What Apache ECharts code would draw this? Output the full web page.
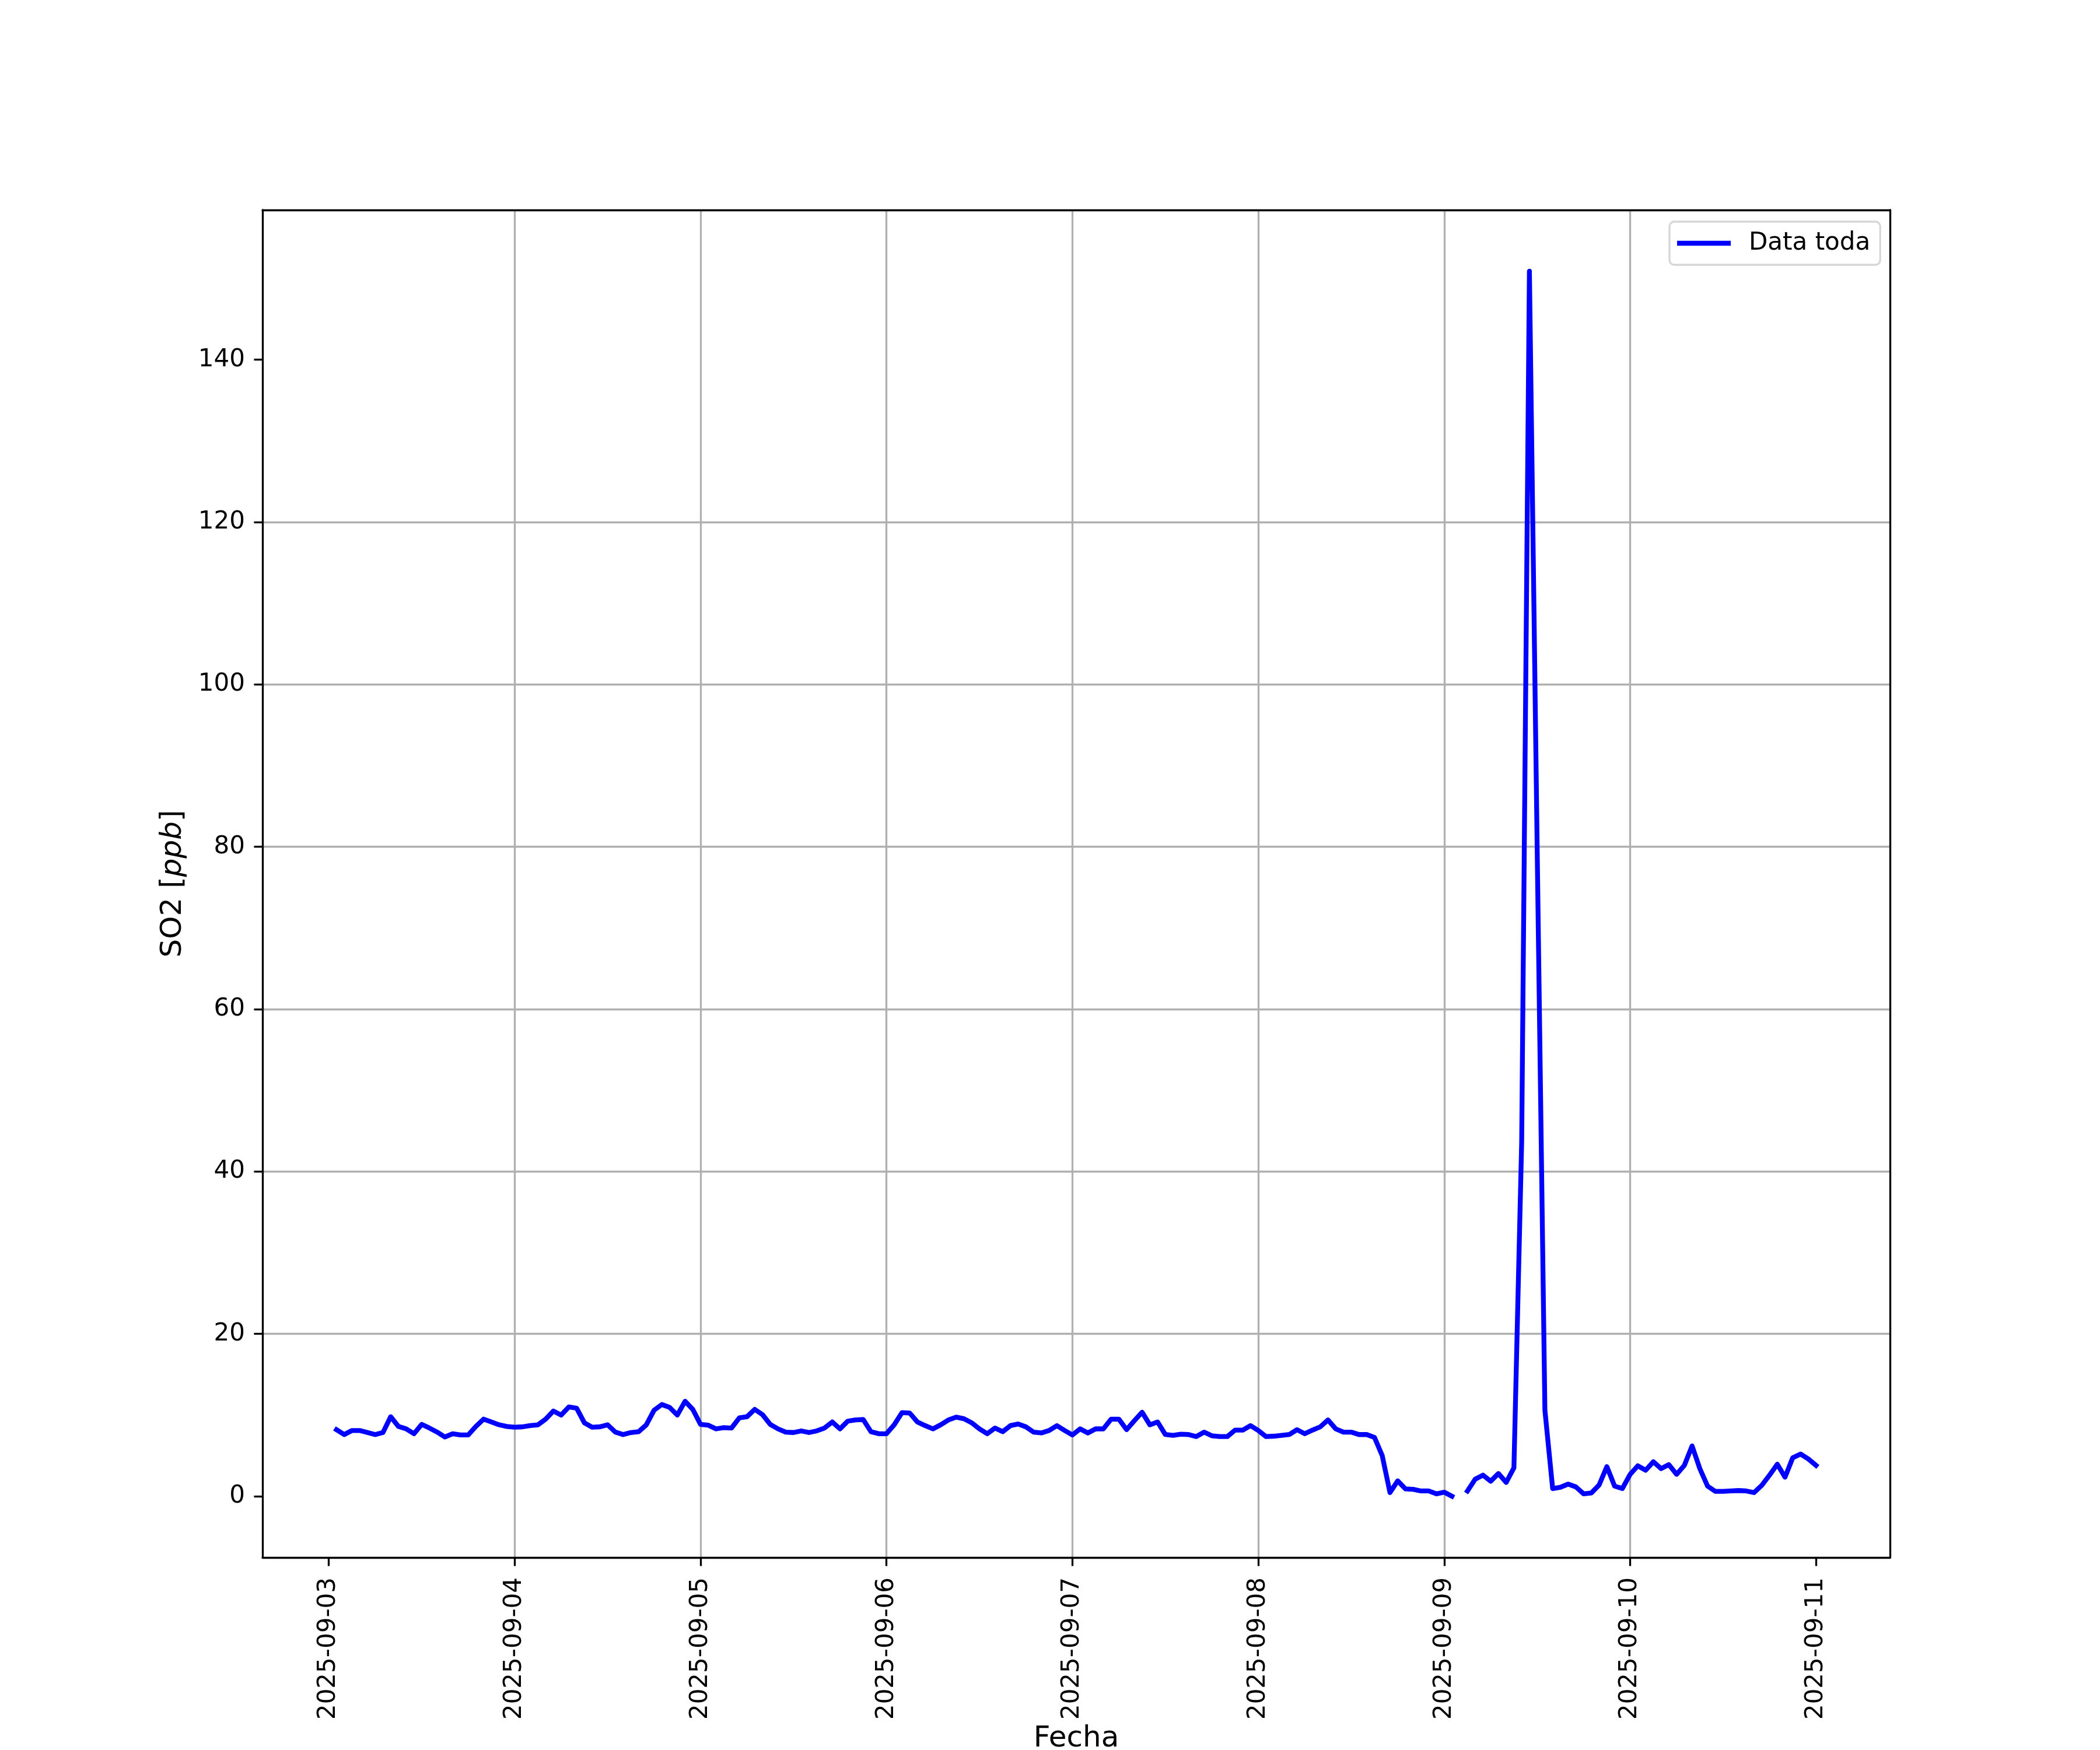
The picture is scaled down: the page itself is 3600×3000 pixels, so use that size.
<!DOCTYPE html>
<html>
<head>
<meta charset="utf-8">
<script src="https://cdn.jsdelivr.net/npm/echarts@6/dist/echarts.min.js"></script>
<style>body{margin:0;background:#fff;}</style>
</head>
<body>
<div id="main" style="width:3600px;height:3000px;"></div>
<script>
// 数据：SO2 每小时数值，从 2025-09-03 01:00 开始
var startTime = Date.UTC(2025, 8, 3, 1);
var hourMs = 3600 * 1000;
var dayMs = 24 * hourMs;

var so2Sep03 = [8.2, 7.6, 8.1, 8.1, 7.85, 7.6, 7.85, 9.8, 8.6, 8.3, 7.7, 8.85, 8.4, 7.9, 7.3, 7.7, 7.55, 7.55, 8.6, 9.5, 9.15, 8.8, 8.6];
var so2Sep04 = [8.5, 8.55, 8.7, 8.8, 9.5, 10.5, 10.0, 11.0, 10.85, 9.05, 8.5, 8.55, 8.8, 7.9, 7.6, 7.85, 7.95, 8.8, 10.6, 11.3, 10.95, 10.0, 11.7, 10.7];
var so2Sep05 = [8.85, 8.75, 8.3, 8.45, 8.4, 9.65, 9.8, 10.7, 10.05, 8.85, 8.3, 7.9, 7.85, 8.05, 7.85, 8.05, 8.4, 9.15, 8.3, 9.25, 9.4, 9.45, 7.95, 7.7];
var so2Sep06 = [7.7, 8.8, 10.3, 10.25, 9.15, 8.7, 8.3, 8.8, 9.4, 9.75, 9.55, 9.05, 8.3, 7.7, 8.4, 7.95, 8.7, 8.9, 8.55, 7.9, 7.8, 8.1, 8.7, 8.1];
var so2Sep07 = [7.55, 8.3, 7.8, 8.3, 8.3, 9.5, 9.5, 8.2, 9.3, 10.35, 8.8, 9.15, 7.6, 7.5, 7.65, 7.6, 7.35, 7.9, 7.45, 7.35, 7.35, 8.15, 8.15, 8.7];
var so2Sep08 = [8.1, 7.35, 7.4, 7.5, 7.6, 8.2, 7.7, 8.15, 8.55, 9.4, 8.3, 7.9, 7.9, 7.6, 7.6, 7.25, 5.0, 0.45, 1.9, 0.9, 0.85, 0.65, 0.65, 0.3];
var so2Sep09 = [0.5, 0.0, null, 0.65, 2.1, 2.6, 1.85, 2.8, 1.7, 3.5, 43.6, 150.9, 80, 10.6, 0.95, 1.1, 1.5, 1.15, 0.3, 0.4, 1.4, 3.65, 1.25, 0.95];
var so2Sep10 = [2.7, 3.75, 3.2, 4.25, 3.4, 3.9, 2.7, 3.8, 6.2, 3.4, 1.25, 0.6, 0.6, 0.65, 0.7, 0.65, 0.45, 1.35, 2.6, 3.95, 2.35, 4.75, 5.2, 4.6];
var so2Sep11 = [3.8];

var so2 = [].concat(so2Sep03, so2Sep04, so2Sep05, so2Sep06, so2Sep07, so2Sep08, so2Sep09, so2Sep10, so2Sep11);

var dayLabels = ['2025-09-03', '2025-09-04', '2025-09-05', '2025-09-06', '2025-09-07', '2025-09-08', '2025-09-09', '2025-09-10', '2025-09-11'];
var yTicks = [0, 20, 40, 60, 80, 100, 120, 140];

var points = so2.map(function (v, i) {
  return [startTime + i * hourMs, v === null ? '-' : v];
});

// 和 matplotlib 一样留 5% 边距
var tFirst = startTime, tLast = startTime + (so2.length - 1) * hourMs;
var xPad = (tLast - tFirst) * 0.05;
var vals = so2.filter(function (v) { return v !== null; });
var vMin = Math.min.apply(null, vals), vMax = Math.max.apply(null, vals);
var yPad = (vMax - vMin) * 0.05;

var dayTicks = dayLabels.map(function (d) { return Date.parse(d + 'T00:00:00Z'); });

var font = 'DejaVu Sans';
var frame = { color: '#000', width: 3.3 };

var chartDom = document.getElementById('main');
var myChart = echarts.init(chartDom);
var option;

option = {
  animation: false,
  backgroundColor: '#fff',
  grid: { left: 450, top: 360, width: 2790, height: 2310, show: false, containLabel: false, outerBoundsMode: 'none' },
  legend: {
    left: 2862,
    top: 380,
    icon: 'rect',
    itemWidth: 92,
    itemHeight: 8.3,
    padding: [15, 17, 15, 13],
    backgroundColor: '#fff',
    borderColor: '#d6d6d6',
    borderWidth: 3.3,
    borderRadius: 8,
    textStyle: { fontFamily: font, fontSize: 42, color: '#000', lineHeight: 44, padding: [0, 0, 0, 26] }
  },
  xAxis: [
    {
      type: 'value',
      min: tFirst - xPad,
      max: tLast + xPad,
      minInterval: dayMs,
      maxInterval: dayMs,
      splitNumber: 9,
      name: 'Fecha',
      nameLocation: 'middle',
      nameGap: 280,
      nameTextStyle: { fontFamily: font, fontSize: 50, color: '#000' },
      axisLine: { show: true, onZero: false, lineStyle: frame },
      axisTick: { show: true, length: 14.6, customValues: dayTicks, lineStyle: frame },
      axisLabel: {
        customValues: dayTicks,
        rotate: 90,
        margin: 34,
        fontFamily: font,
        fontSize: 42,
        color: '#000',
        formatter: function (v) { return new Date(v).toISOString().slice(0, 10); }
      },
      splitLine: { show: true, showMinLine: false, showMaxLine: false, lineStyle: { color: '#b0b0b0', width: 3.3 } }
    },
    {
      type: 'value',
      position: 'top',
      min: tFirst - xPad,
      max: tLast + xPad,
      axisLine: { show: true, onZero: false, lineStyle: frame },
      axisTick: { show: false },
      axisLabel: { show: false },
      splitLine: { show: false }
    }
  ],
  yAxis: [
    {
      type: 'value',
      min: vMin - yPad,
      max: vMax + yPad,
      minInterval: 20,
      maxInterval: 20,
      splitNumber: 8,
      name: 'SO2 [{i|ppb}]',
      nameLocation: 'middle',
      nameRotate: 90,
      nameGap: 128,
      nameTextStyle: {
        fontFamily: font, fontSize: 50, color: '#000',
        rich: { i: { fontFamily: font, fontSize: 50, fontStyle: 'italic', color: '#000' } }
      },
      axisLine: { show: true, onZero: false, lineStyle: frame },
      axisTick: { show: true, length: 14.6, customValues: yTicks, lineStyle: frame },
      axisLabel: { customValues: yTicks, margin: 30, fontFamily: font, fontSize: 42, color: '#000' },
      splitLine: { show: true, showMinLine: false, showMaxLine: false, lineStyle: { color: '#b0b0b0', width: 3.3 } }
    },
    {
      type: 'value',
      position: 'right',
      min: vMin - yPad,
      max: vMax + yPad,
      axisLine: { show: true, onZero: false, lineStyle: frame },
      axisTick: { show: false },
      axisLabel: { show: false },
      splitLine: { show: false }
    }
  ],
  series: [
    {
      name: 'Data toda',
      type: 'line',
      data: points,
      showSymbol: false,
      symbol: 'none',
      connectNulls: false,
      itemStyle: { color: '#0000ff' },
      lineStyle: { color: '#0000ff', width: 8.3, cap: 'square', join: 'round' },
      z: 5
    }
  ]
};

option && myChart.setOption(option);
</script>
</body>
</html>
